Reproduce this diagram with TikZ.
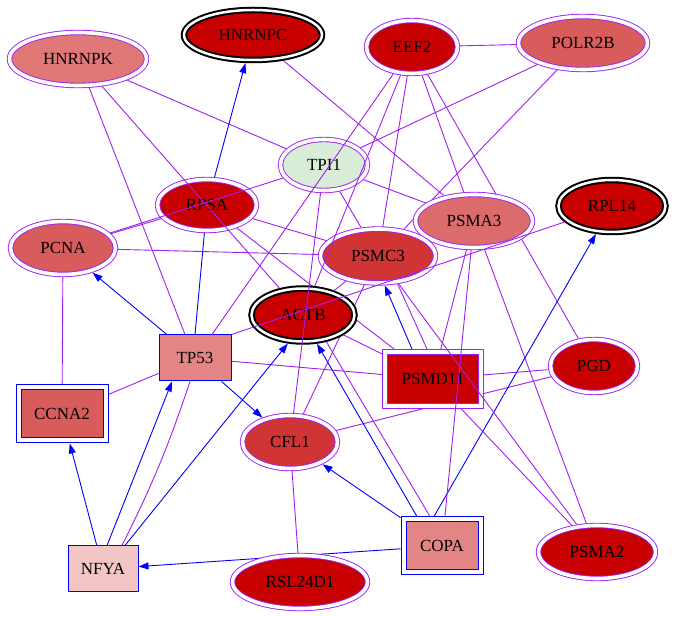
\documentclass[tikz,border=0pt]{standalone}
\usepackage{fontspec}
\setmainfont{Liberation Serif}
\usetikzlibrary{shapes.geometric,arrows.meta}
\pgfdeclarelayer{background}
\pgfsetlayers{background,main}

\definecolor{ppipurple}{RGB}{160,32,240}
\definecolor{deepred}{RGB}{200,0,0}
\definecolor{midred}{RGB}{208,52,52}
\definecolor{rosered}{RGB}{216,92,92}
\definecolor{salmon}{RGB}{224,120,120}
\definecolor{palepink}{RGB}{242,198,198}
\definecolor{mint}{RGB}{216,236,216}

\tikzset{
  label font/.style={font=\fontsize{17}{20}\selectfont},
  gene/.style={ellipse, inner sep=0pt, label font},
  ring/.style={gene, draw=ppipurple, line width=0.9pt, double=white,
    double distance=3.6pt, outer sep=2.7pt},
  hub/.style={gene, draw=black, line width=2pt, double=white,
    double distance=2.5pt, outer sep=3.25pt},
  tf/.style={rectangle, inner sep=0pt, draw=blue, line width=1pt, label font},
  tfring/.style={tf, double=white, double distance=4pt, outer sep=3pt},
  boxring/.style={tfring, draw=ppipurple},
  ppi/.style={draw=ppipurple, line width=0.9pt},
  reg/.style={draw=blue, line width=0.9pt},
  regarrow/.style={reg, -{Triangle[length=10pt,width=7pt]}}
}

\begin{document}
\begin{tikzpicture}[x=1pt,y=-1pt]
\useasboundingbox (0,0) rectangle (673,617);

% ellipse nodes
\node[hub, fill=deepred, minimum width=138, minimum height=50] (HNRNPC) at (253,35) {HNRNPC};
\node[ring, fill=salmon, minimum width=137, minimum height=53] (HNRNPK) at (78,59) {HNRNPK};
\node[ring, fill=deepred, minimum width=91, minimum height=53] (EEF2) at (412,47) {EEF2};
\node[ring, fill=rosered, minimum width=129, minimum height=53] (POLR2B) at (583,43) {POLR2B};
\node[ring, fill=mint, minimum width=87, minimum height=51] (TPI1) at (324,165) {TPI1};
\node[ring, fill=deepred, minimum width=99, minimum height=51] (RPSA) at (207,205) {RPSA};
\node[ring, fill=rosered, minimum width=105, minimum height=53] (PCNA) at (63,248) {PCNA};
\node[ring, fill=rosered!90!white, minimum width=117, minimum height=53] (PSMA3) at (474,221) {PSMA3};
\node[hub, fill=deepred, minimum width=107, minimum height=52] (RPL14) at (612,206) {RPL14};
\node[ring, fill=midred, minimum width=115, minimum height=54] (PSMC3) at (378,256) {PSMC3};
\node[hub, fill=deepred, minimum width=103, minimum height=53] (ACTB) at (303,315) {ACTB};
\node[ring, fill=deepred, minimum width=87, minimum height=53] (PGD) at (594,366) {PGD};
\node[ring, fill=midred, minimum width=95, minimum height=53] (CFL1) at (290,442) {CFL1};
\node[ring, fill=deepred, minimum width=117, minimum height=53] (PSMA2) at (597,552) {PSMA2};
\node[ring, fill=deepred, minimum width=135, minimum height=53] (RSL24D1) at (300,582) {RSL24D1};

% box nodes
\node[tf, fill=salmon!90!white, minimum width=72, minimum height=46] (TP53) at (195,358) {TP53};
\node[boxring, fill=deepred, minimum width=96, minimum height=54] (PSMD11) at (433,379) {PSMD11};
\node[tfring, fill=rosered, minimum width=87, minimum height=53] (CCNA2) at (62,414) {CCNA2};
\node[tfring, fill=salmon!90!white, minimum width=77, minimum height=53] (COPA) at (442,546) {COPA};
\node[tf, fill=palepink, minimum width=70, minimum height=46] (NFYA) at (103,569) {NFYA};

\begin{pgfonlayer}{background}
\draw[ppi] (HNRNPC) -- (PSMA3);
\draw[ppi] (HNRNPK) -- (TPI1);
\draw[ppi] (HNRNPK) -- ([xshift=-10pt]TP53.north);
\draw[ppi] (EEF2) -- (POLR2B);
\draw[ppi] (EEF2) -- (PSMC3);
\draw[ppi] (EEF2) -- (PSMA3);
\draw[ppi] (EEF2) -- (PGD);
\draw[ppi] (POLR2B) -- (TPI1);
\draw[ppi] (POLR2B) -- (PSMC3);
\draw[ppi] (TPI1) -- (PSMA3);
\draw[ppi] (TPI1) -- (PSMC3);
\draw[ppi] (PCNA) -- (RPSA);
\draw[ppi] (PCNA) -- (PSMC3);
\draw[ppi] (PCNA) -- (CCNA2);
\draw[ppi] (RPSA) -- (PSMC3);
\draw[ppi] (RPSA) -- (PSMD11);
\draw[ppi] (PSMA3) -- (PSMD11);
\draw[ppi] (PSMA3) -- (PSMA2);
\draw[ppi] (PSMC3) -- (ACTB);
\draw[ppi] (PSMC3) -- (CFL1);
\draw[ppi] ([xshift=-6pt]PSMD11.north) -- (PSMC3.-55);
\draw[ppi] (ACTB) -- (PSMD11);
\draw[ppi] (TP53) -- (PSMD11);
\draw[ppi] (TP53) -- (CCNA2);
\draw[ppi] ([xshift=19pt]NFYA.north) to[bend right=4] ([xshift=-5pt]TP53.south);
\draw[ppi] (PSMD11) -- (PGD);
\draw[ppi] (PSMD11) -- (PSMA2);
\draw[ppi] (CFL1) -- (PGD);
\draw[ppi] (CFL1) -- (RSL24D1);
\draw[ppi] ([xshift=-12pt]COPA.north) -- (ACTB.-49);

\draw[regarrow] (RPSA) -- (HNRNPC);
\draw[reg] (TP53.north) -- (RPSA);
\draw[regarrow] (TP53) -- (PCNA);
\draw[regarrow] (TP53) -- (CFL1);
\draw[regarrow] ([xshift=4pt]NFYA.north) -- ([xshift=-23pt]TP53.south);
\draw[regarrow] (NFYA) -- (CCNA2);
\draw[regarrow] ([xshift=22pt]NFYA.north) -- (ACTB.-118);
\draw[regarrow] (COPA) -- (NFYA);
\draw[regarrow] (COPA) -- (CFL1);
\draw[regarrow] ([xshift=-25pt]COPA.north) -- (ACTB.-64);
\draw[regarrow] ([xshift=-8pt]COPA.north) -- (RPL14);
\draw[regarrow] ([xshift=-21pt]PSMD11.north) -- (PSMC3.-77);
\end{pgfonlayer}

% edges that run over nodes
\draw[ppi] (HNRNPK) -- (ACTB);
\draw[ppi] (EEF2) -- ([xshift=17pt]TP53.north);
\draw[ppi] (EEF2) -- (ACTB);
\draw[ppi] (TPI1) -- (PCNA);
\draw[ppi] (TPI1) -- (CFL1);
\draw[ppi] (PSMA3) -- (COPA);
\draw[ppi] (RPL14) -- (TP53.north east);
\draw[ppi] (PSMC3) -- (PSMA2);

\end{tikzpicture}
\end{document}
